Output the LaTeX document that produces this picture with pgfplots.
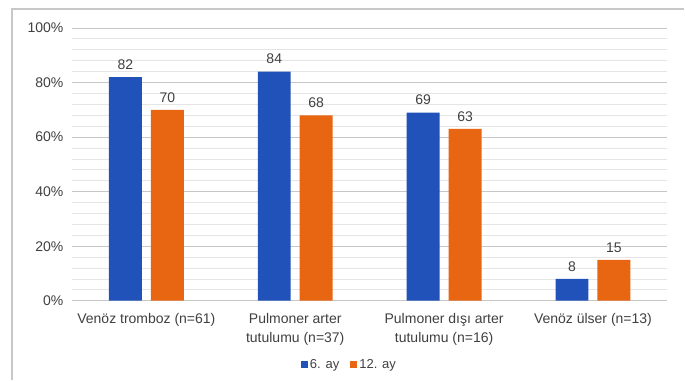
\documentclass[border=0pt]{standalone}
\usepackage{pgfplots}
\pgfplotsset{compat=1.18}
\usepackage{fontspec}
\setmainfont{Liberation Sans}
\definecolor{barblue}{RGB}{33,82,186}
\definecolor{barorange}{RGB}{232,101,18}
\definecolor{txt}{RGB}{64,64,64}
\definecolor{frame}{RGB}{200,200,200}
\begin{document}
\begin{tikzpicture}[x=1pt,y=1pt]
% chart area and its frame
\fill[white] (0,0) rectangle (685,380);
\draw[frame, line width=1.2pt] (12,0) -- (12,371) -- (685,371);
\begin{axis}[
  at={(72pt,79pt)}, anchor=south west,
  scale only axis, width=596pt, height=273pt,
  /pgf/number format/assume math mode=true,
  ybar=9pt, bar width=33pt,
  ymin=0, ymax=100, xmin=-0.5, xmax=3.5,
  xtick={0,1,2,3},
  xticklabels={{Venöz tromboz (n=61)},{Pulmoner arter\\tutulumu (n=37)},{Pulmoner dışı arter\\tutulumu (n=16)},{Venöz ülser (n=13)}},
  ytick={0,20,...,100},
  minor ytick={4,8,...,96},
  yticklabel={\pgfmathprintnumber{\tick}\%},
  ymajorgrids, yminorgrids,
  major grid style={draw=black!22, line width=0.8pt},
  minor grid style={draw=black!10, line width=0.8pt},
  axis line style={draw=none},
  major tick style={draw=none}, minor tick style={draw=none},
  tick label style={font=\fontsize{14}{19}\selectfont, text=txt},
  xticklabel style={align=center, anchor=north, yshift=-5pt},
  yticklabel style={anchor=east, xshift=-5pt},
  nodes near coords,
  nodes near coords style={font=\fontsize{14}{17}\selectfont, text=txt, yshift=4pt},
  clip=false,
  legend style={at={(0.466,-0.234)}, anchor=center, draw=none, fill=none,
    legend columns=2, font=\fontsize{13}{16}\selectfont, text=txt,
    /tikz/every even column/.append style={column sep=9pt}},
  legend image code/.code={\fill[#1] (0pt,-3.5pt) rectangle (7pt,3.5pt);},
]
\addplot[fill=barblue, draw=none] coordinates {(0,82) (1,84) (2,69) (3,8)};
\addplot[fill=barorange, draw=none] coordinates {(0,70) (1,68) (2,63) (3,15)};
\legend{6. ay, 12. ay}
\end{axis}
\end{tikzpicture}
\end{document}
